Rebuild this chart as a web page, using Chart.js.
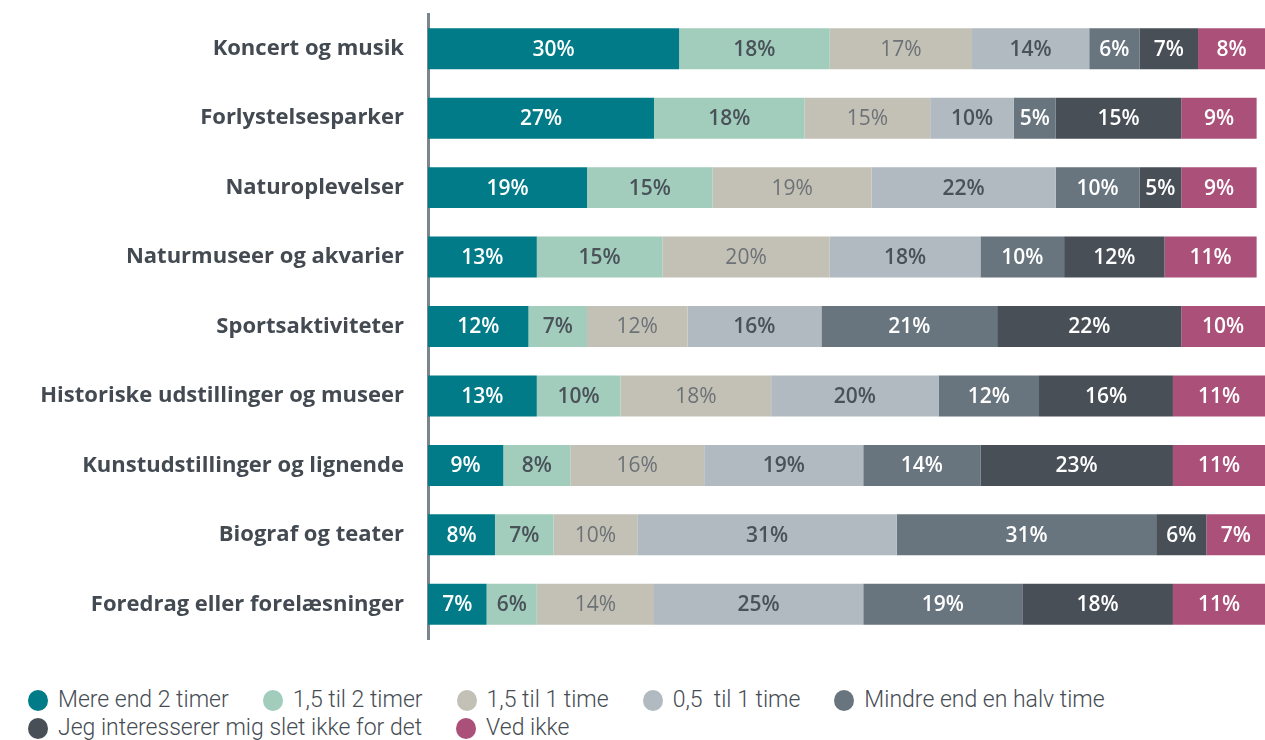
<!DOCTYPE html>
<html lang="da">
<head>
<meta charset="utf-8">
<title>Tid brugt på oplevelser</title>
<script src="https://cdn.jsdelivr.net/npm/chart.js@4.4.1/dist/chart.umd.min.js"></script>
<style>
    html, body { margin: 0; padding: 0; background: #fff; overflow: hidden; }
    #wrap { position: relative; width: 1265px; height: 660px; }
    #legend {
        display: flex;
        flex-wrap: wrap;
        width: 1180px;
        margin: 26px 0 0 28px;
        font-family: Roboto, "Noto Sans", sans-serif;
        font-weight: 300;
        font-size: 23px;
        color: #454c53;
        line-height: 28px;
    }
    #legend .item { display: flex; align-items: center; margin-right: 34px; white-space: pre; }
    #legend .dot { width: 20px; height: 21px; border-radius: 50%; margin-right: 10px; }
</style>
</head>
<body>
<div id="wrap"><canvas id="chart"></canvas></div>
<div id="legend"></div>
<script>
(function () {
    'use strict';

    // kategorier (oppefra og ned)
    const categories = [
        'Koncert og musik',
        'Forlystelsesparker',
        'Naturoplevelser',
        'Naturmuseer og akvarier',
        'Sportsaktiviteter',
        'Historiske udstillinger og museer',
        'Kunstudstillinger og lignende',
        'Biograf og teater',
        'Foredrag eller forelæsninger'
    ];

    const seriesNames = [
        'Mere end 2 timer',
        '1,5 til 2 timer',
        '1,5 til 1 time',
        '0,5  til 1 time',
        'Mindre end en halv time',
        'Jeg interesserer mig slet ikke for det',
        'Ved ikke'
    ];

    // andele i procent
    const mereEnd2 = [30, 27, 19, 13, 12, 13, 9, 8, 7];
    const fra15til2 = [18, 18, 15, 15, 7, 10, 8, 7, 6];
    const fra15til1 = [17, 15, 19, 20, 12, 18, 16, 10, 14];
    const fra05til1 = [14, 10, 22, 18, 16, 20, 19, 31, 25];
    const mindreEndHalv = [6, 5, 10, 10, 21, 12, 14, 31, 19];
    const ikkeInteresseret = [7, 15, 5, 12, 22, 16, 23, 6, 18];
    const vedIkke = [8, 9, 9, 11, 10, 11, 11, 7, 11];

    const values = [mereEnd2, fra15til2, fra15til1, fra05til1, mindreEndHalv, ikkeInteresseret, vedIkke];

    const colors = ['#007b87', '#a2cdbc', '#c3c1b5', '#b0bac0', '#68757e', '#484f57', '#ab5079'];
    const labelColors = ['#ffffff', '#4a5259', '#6d7277', '#4a5259', '#ffffff', '#ffffff', '#ffffff'];
    const labelWeights = ['600', '600', '400', '600', '600', '600', '600'];

    const valueFont = '"Open Sans", "Noto Sans", sans-serif';

    const barLabels = {
        id: 'barLabels',
        afterDatasetsDraw(chart) {
            const ctx = chart.ctx;
            ctx.save();
            ctx.textAlign = 'center';
            ctx.textBaseline = 'middle';
            chart.data.datasets.forEach((ds, i) => {
                const meta = chart.getDatasetMeta(i);
                if (meta.hidden) {
                    return;
                }
                ctx.fillStyle = labelColors[i];
                ctx.font = labelWeights[i] + ' 21px ' + valueFont;
                meta.data.forEach((bar, j) => {
                    const p = bar.getCenterPoint();
                    ctx.fillText(ds.data[j] + '%', p.x, p.y + 1);
                });
            });
            ctx.restore();
        }
    };

    const chart = new Chart(document.getElementById('chart'), {
        type: 'bar',
        data: {
            labels: categories,
            datasets: seriesNames.map((name, i) => ({
                label: name,
                data: values[i],
                backgroundColor: colors[i],
                borderWidth: 0,
                categoryPercentage: 1,
                barPercentage: 0.59
            }))
        },
        options: {
            indexAxis: 'y',
            responsive: true,
            maintainAspectRatio: false,
            animation: false,
            layout: { padding: { top: 14, bottom: 21, left: 0, right: 0 } },
            plugins: {
                legend: { display: false },
                tooltip: { enabled: false }
            },
            scales: {
                x: {
                    stacked: true,
                    min: 0,
                    max: 100,
                    display: false
                },
                y: {
                    stacked: true,
                    afterFit(scale) {
                        scale.width = 428;
                        scale.paddingTop = 0;
                        scale.paddingBottom = 0;
                    },
                    grid: { display: false, drawTicks: false },
                    border: { display: true, color: '#7b858d', width: 3 },
                    ticks: {
                        padding: 24,
                        color: '#434a52',
                        font: { family: valueFont, size: 22, weight: '700' }
                    }
                }
            }
        },
        plugins: [barLabels]
    });

    // legende i HTML, bygget ud fra diagrammets datasæt
    const legend = document.getElementById('legend');
    chart.data.datasets.forEach((ds) => {
        const item = document.createElement('div');
        item.className = 'item';
        const dot = document.createElement('span');
        dot.className = 'dot';
        dot.style.background = ds.backgroundColor;
        const txt = document.createElement('span');
        txt.textContent = ds.label;
        item.appendChild(dot);
        item.appendChild(txt);
        legend.appendChild(item);
    });
})();
</script>
</body>
</html>
